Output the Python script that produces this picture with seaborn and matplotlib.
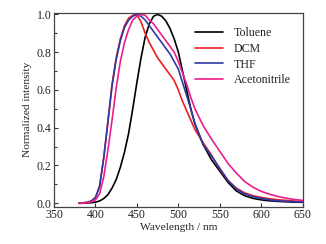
import numpy as np
import pandas as pd
import matplotlib
matplotlib.use("Agg")
import matplotlib.pyplot as plt
from matplotlib.ticker import MultipleLocator
import seaborn as sns

wavelength = [380, 385, 390, 395, 400, 405, 410, 415, 420, 425, 430, 435, 440, 445,
              450, 455, 460, 465, 470, 475, 480, 485, 490, 495, 500, 505, 510, 515,
              520, 530, 540, 550, 560, 570, 580, 590, 600, 610, 620, 630, 640, 650]

toluene = [0.0, 0.0, 0.001, 0.003, 0.006, 0.012, 0.025, 0.045, 0.08, 0.125, 0.19, 0.27,
           0.37, 0.5, 0.64, 0.77, 0.88, 0.95, 0.99, 1.0, 0.99, 0.965, 0.925, 0.87,
           0.8, 0.7, 0.6, 0.5, 0.42, 0.31, 0.23, 0.17, 0.11, 0.065, 0.04, 0.026,
           0.018, 0.013, 0.01, 0.008, 0.006, 0.005]

dcm = [0.0, 0.002, 0.005, 0.012, 0.03, 0.09, 0.24, 0.43, 0.63, 0.77, 0.87, 0.94,
       0.98, 0.995, 1.0, 0.96, 0.9, 0.85, 0.81, 0.77, 0.74, 0.71, 0.68, 0.65,
       0.6, 0.54, 0.49, 0.44, 0.39, 0.32, 0.255, 0.18, 0.12, 0.08, 0.055, 0.04,
       0.031, 0.024, 0.019, 0.015, 0.012, 0.009]

thf = [0.0, 0.002, 0.005, 0.012, 0.03, 0.09, 0.24, 0.43, 0.62, 0.76, 0.86, 0.93,
       0.97, 0.99, 1.0, 0.99, 0.97, 0.94, 0.91, 0.88, 0.85, 0.82, 0.79, 0.75,
       0.71, 0.64, 0.57, 0.5, 0.42, 0.31, 0.25, 0.185, 0.12, 0.075, 0.05, 0.035,
       0.026, 0.018, 0.013, 0.01, 0.008, 0.006]

acetonitrile = [0.0, 0.001, 0.003, 0.008, 0.018, 0.05, 0.14, 0.28, 0.44, 0.61, 0.75, 0.85,
                0.92, 0.97, 0.99, 1.0, 0.995, 0.97, 0.95, 0.92, 0.89, 0.86, 0.83, 0.8,
                0.75, 0.69, 0.63, 0.56, 0.5, 0.41, 0.34, 0.275, 0.21, 0.16, 0.115, 0.085,
                0.063, 0.048, 0.036, 0.027, 0.02, 0.015]

solvents = ["Toluene", "DCM", "THF", "Acetonitrile"]
colors = ["#000000", "#ee1c24", "#2b3aa8", "#ec1e8c"]

df = pd.concat([
    pd.DataFrame({"Wavelength": wavelength, "Intensity": vals, "Solvent": name})
    for name, vals in zip(solvents, [toluene, dcm, thf, acetonitrile])
])

sns.set_theme(style="ticks")
plt.rcParams["font.family"] = ["Liberation Serif", "DejaVu Serif"]

fig = plt.figure(figsize=(3.26, 2.44), dpi=100)
ax = fig.add_axes([0.1656, 0.153, 0.763, 0.795])

sns.lineplot(data=df, x="Wavelength", y="Intensity", hue="Solvent",
             hue_order=solvents, palette=colors, linewidth=1.2, ax=ax,
             estimator=None, sort=False)

ax.set_xlim(350, 650)
ax.set_ylim(-0.018, 1.009)
ax.xaxis.set_major_locator(MultipleLocator(50))
ax.yaxis.set_major_locator(MultipleLocator(0.2))
ax.yaxis.set_minor_locator(MultipleLocator(0.1))
ax.yaxis.set_major_formatter(matplotlib.ticker.FormatStrFormatter("%.1f"))

ax.tick_params(axis="both", which="both", direction="in", labelsize=8.5,
               colors="#333333", labelcolor="#222222", pad=2)
ax.tick_params(which="major", length=3, width=0.8)
ax.tick_params(which="minor", length=2, width=0.8)
for s in ax.spines.values():
    s.set_color("#444444")
    s.set_linewidth(0.9)

ax.set_xlabel("Wavelength / nm", fontsize=8.2, color="#222222", labelpad=1)
ax.set_ylabel("Normalized intensity", fontsize=8.2, color="#222222", labelpad=3)

handles, labels = ax.get_legend_handles_labels()
leg = ax.legend(handles, labels, loc="upper left", bbox_to_anchor=(0.566, 0.925),
                frameon=False, fontsize=8.6, handlelength=2.4, handletextpad=0.85,
                labelspacing=0.31, borderpad=0, borderaxespad=0)
for t in leg.get_texts():
    t.set_color("#222222")

fig.savefig("out.png", dpi=100)
